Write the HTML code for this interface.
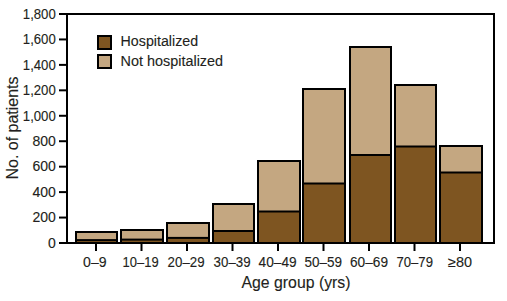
<!DOCTYPE html>
<html><head><meta charset="utf-8"><style>
html,body{margin:0;padding:0;background:#fff;width:507px;height:301px;overflow:hidden}
svg{display:block}
text{font-family:"Liberation Sans",sans-serif;fill:#231f20;stroke:#231f20;stroke-width:0.12px}
</style></head><body>
<svg width="507" height="301" viewBox="0 0 507 301">
<rect x="76" y="232" width="41" height="11" fill="#c4a781" stroke="#000" stroke-width="2"/>
<rect x="76" y="240.1" width="41" height="2.9000000000000057" fill="#7e5521" stroke="#000" stroke-width="2"/>
<rect x="121" y="230" width="42" height="13" fill="#c4a781" stroke="#000" stroke-width="2"/>
<rect x="121" y="239.6" width="42" height="3.4000000000000057" fill="#7e5521" stroke="#000" stroke-width="2"/>
<rect x="167" y="223" width="42" height="20" fill="#c4a781" stroke="#000" stroke-width="2"/>
<rect x="167" y="237.9" width="42" height="5.099999999999994" fill="#7e5521" stroke="#000" stroke-width="2"/>
<rect x="213" y="204" width="41" height="39" fill="#c4a781" stroke="#000" stroke-width="2"/>
<rect x="213" y="231" width="41" height="12" fill="#7e5521" stroke="#000" stroke-width="2"/>
<rect x="258" y="161" width="42" height="82" fill="#c4a781" stroke="#000" stroke-width="2"/>
<rect x="258" y="211.5" width="42" height="31.5" fill="#7e5521" stroke="#000" stroke-width="2"/>
<rect x="303" y="89" width="42" height="154" fill="#c4a781" stroke="#000" stroke-width="2"/>
<rect x="303" y="183.5" width="42" height="59.5" fill="#7e5521" stroke="#000" stroke-width="2"/>
<rect x="350" y="47" width="41" height="196" fill="#c4a781" stroke="#000" stroke-width="2"/>
<rect x="350" y="155" width="41" height="88" fill="#7e5521" stroke="#000" stroke-width="2"/>
<rect x="395" y="85" width="41" height="158" fill="#c4a781" stroke="#000" stroke-width="2"/>
<rect x="395" y="146.5" width="41" height="96.5" fill="#7e5521" stroke="#000" stroke-width="2"/>
<rect x="440" y="146" width="42" height="97" fill="#c4a781" stroke="#000" stroke-width="2"/>
<rect x="440" y="172.5" width="42" height="70.5" fill="#7e5521" stroke="#000" stroke-width="2"/>
<rect x="67" y="14" width="427" height="229" fill="none" stroke="#000" stroke-width="2"/>
<line x1="59" y1="243.00" x2="67" y2="243.00" stroke="#000" stroke-width="2"/>
<text x="55.8" y="247.80" text-anchor="end" font-size="14" textLength="7.8" lengthAdjust="spacingAndGlyphs">0</text>
<line x1="59" y1="217.56" x2="67" y2="217.56" stroke="#000" stroke-width="2"/>
<text x="55.8" y="222.36" text-anchor="end" font-size="14" textLength="23.4" lengthAdjust="spacingAndGlyphs">200</text>
<line x1="59" y1="192.11" x2="67" y2="192.11" stroke="#000" stroke-width="2"/>
<text x="55.8" y="196.91" text-anchor="end" font-size="14" textLength="23.4" lengthAdjust="spacingAndGlyphs">400</text>
<line x1="59" y1="166.67" x2="67" y2="166.67" stroke="#000" stroke-width="2"/>
<text x="55.8" y="171.47" text-anchor="end" font-size="14" textLength="23.4" lengthAdjust="spacingAndGlyphs">600</text>
<line x1="59" y1="141.22" x2="67" y2="141.22" stroke="#000" stroke-width="2"/>
<text x="55.8" y="146.02" text-anchor="end" font-size="14" textLength="23.4" lengthAdjust="spacingAndGlyphs">800</text>
<line x1="59" y1="115.78" x2="67" y2="115.78" stroke="#000" stroke-width="2"/>
<text x="55.8" y="120.58" text-anchor="end" font-size="14" textLength="33" lengthAdjust="spacingAndGlyphs">1,000</text>
<line x1="59" y1="90.33" x2="67" y2="90.33" stroke="#000" stroke-width="2"/>
<text x="55.8" y="95.13" text-anchor="end" font-size="14" textLength="33" lengthAdjust="spacingAndGlyphs">1,200</text>
<line x1="59" y1="64.89" x2="67" y2="64.89" stroke="#000" stroke-width="2"/>
<text x="55.8" y="69.69" text-anchor="end" font-size="14" textLength="33" lengthAdjust="spacingAndGlyphs">1,400</text>
<line x1="59" y1="39.44" x2="67" y2="39.44" stroke="#000" stroke-width="2"/>
<text x="55.8" y="44.24" text-anchor="end" font-size="14" textLength="33" lengthAdjust="spacingAndGlyphs">1,600</text>
<line x1="59" y1="14.00" x2="67" y2="14.00" stroke="#000" stroke-width="2"/>
<text x="55.8" y="18.80" text-anchor="end" font-size="14" textLength="33" lengthAdjust="spacingAndGlyphs">1,800</text>
<line x1="96.0" y1="243" x2="96.0" y2="251" stroke="#000" stroke-width="2"/>
<text x="94.80" y="266.7" text-anchor="middle" font-size="14" textLength="23.5" lengthAdjust="spacingAndGlyphs">0–9</text>
<line x1="141.5" y1="243" x2="141.5" y2="251" stroke="#000" stroke-width="2"/>
<text x="140.60" y="266.7" text-anchor="middle" font-size="14" textLength="36" lengthAdjust="spacingAndGlyphs">10–19</text>
<line x1="187.0" y1="243" x2="187.0" y2="251" stroke="#000" stroke-width="2"/>
<text x="186.10" y="266.7" text-anchor="middle" font-size="14" textLength="37" lengthAdjust="spacingAndGlyphs">20–29</text>
<line x1="232.5" y1="243" x2="232.5" y2="251" stroke="#000" stroke-width="2"/>
<text x="232.10" y="266.7" text-anchor="middle" font-size="14" textLength="37" lengthAdjust="spacingAndGlyphs">30–39</text>
<line x1="278.0" y1="243" x2="278.0" y2="251" stroke="#000" stroke-width="2"/>
<text x="277.60" y="266.7" text-anchor="middle" font-size="14" textLength="38" lengthAdjust="spacingAndGlyphs">40–49</text>
<line x1="323.5" y1="243" x2="323.5" y2="251" stroke="#000" stroke-width="2"/>
<text x="323.30" y="266.7" text-anchor="middle" font-size="14" textLength="37.5" lengthAdjust="spacingAndGlyphs">50–59</text>
<line x1="369.0" y1="243" x2="369.0" y2="251" stroke="#000" stroke-width="2"/>
<text x="369.00" y="266.7" text-anchor="middle" font-size="14" textLength="38" lengthAdjust="spacingAndGlyphs">60–69</text>
<line x1="414.5" y1="243" x2="414.5" y2="251" stroke="#000" stroke-width="2"/>
<text x="414.70" y="266.7" text-anchor="middle" font-size="14" textLength="36.5" lengthAdjust="spacingAndGlyphs">70–79</text>
<line x1="460.0" y1="243" x2="460.0" y2="251" stroke="#000" stroke-width="2"/>
<text x="460.10" y="266.7" text-anchor="middle" font-size="14" textLength="24" lengthAdjust="spacingAndGlyphs">≥80</text>
<rect x="98" y="36" width="13" height="13" fill="#7e5521" stroke="#000" stroke-width="2"/>
<rect x="98" y="55" width="13" height="13" fill="#c4a781" stroke="#000" stroke-width="2"/>
<text x="120.6" y="45.6" font-size="14.7" textLength="77.5" lengthAdjust="spacingAndGlyphs">Hospitalized</text>
<text x="120.6" y="65.6" font-size="14.7" textLength="102.5" lengthAdjust="spacingAndGlyphs">Not hospitalized</text>
<text x="241.5" y="288" font-size="16.5" textLength="109" lengthAdjust="spacingAndGlyphs">Age group (yrs)</text>
<text transform="translate(18.3,179.5) rotate(-90)" font-size="16.5" textLength="103" lengthAdjust="spacingAndGlyphs">No. of patients</text>
</svg>
</body></html>
